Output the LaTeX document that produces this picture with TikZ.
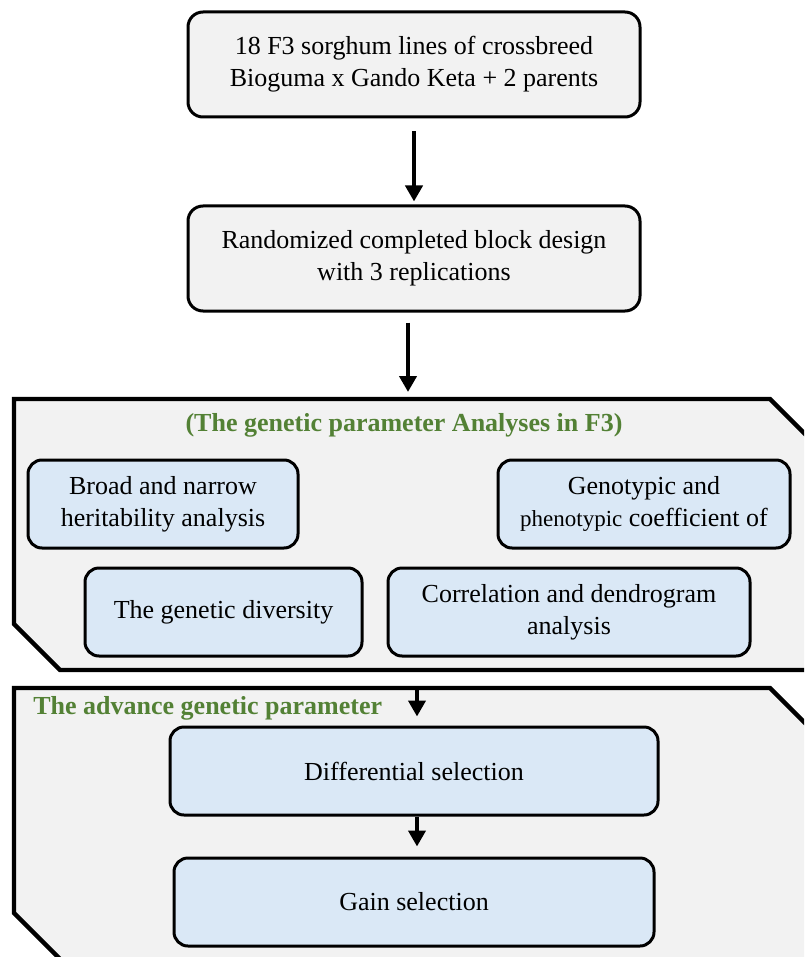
\documentclass[tikz,border=0pt]{standalone}
\usepackage{fontspec}
\setmainfont{Liberation Serif}
\usepackage{tikz}
\usetikzlibrary{positioning, arrows.meta}
\definecolor{panelgray}{HTML}{F2F2F2}
\definecolor{boxblue}{HTML}{DAE8F6}
\definecolor{titlegreen}{HTML}{538135}

\begin{document}
\begin{tikzpicture}[
    x=0.5pt, y=-0.5pt,
    font=\fontsize{13}{16}\selectfont,
    >={Triangle[length=8pt, width=8.5pt]},
    stepbox/.style={rounded corners=7.5pt, draw=black, fill=panelgray,
        text=black, line width=1.5pt, minimum width=226pt, minimum height=52.5pt, align=center},
    analysisbox/.style={rounded corners=7pt, draw=black, fill=boxblue,
        text=black, line width=1.5pt, minimum height=44pt, align=center},
    panel/.style={draw=black, fill=panelgray, line width=2.2pt},
    paneltitle/.style={font=\fontsize{13}{16}\selectfont\bfseries, text=titlegreen, inner sep=0pt},
    flow/.style={->, line width=2pt}
  ]
    \useasboundingbox (0,0) rectangle (804,957);
    % the two snipped panels, cut off by the page edge
    \begin{scope}
      \clip (0,0) rectangle (804,957);
      \draw[panel] (14,399) -- (770,399) -- (850,479) -- (850,670) -- (60,670) -- (14,624) -- cycle;
      \draw[panel] (14,688) -- (770,688) -- (850,768) -- (850,961) -- (62,961) -- (14,913) -- cycle;
    \end{scope}
    \coordinate (p1top) at (408,399);
    \coordinate (p2top) at (417,688);

    \node[stepbox] (lines) at (414,64.5) {18 F3 sorghum lines of crossbreed\\Bioguma x Gando Keta + 2 parents};
    \node[stepbox, below=43pt of lines] (design) {Randomized completed block design\\with 3 replications};
    \draw[flow, shorten <=6.5pt, shorten >=1.5pt] (lines.south) -- (design.north);
    \draw[flow, shorten <=5pt, shorten >=3.5pt] (design.south -| p1top) -- (p1top);

    % genetic parameter analyses in F3
    \node[paneltitle] (ptitle) at (404,425) {(The genetic parameter Analyses in F3)};
    \node[analysisbox, minimum width=135pt] (herit) at (163,504) {Broad and narrow\\heritability analysis};
    \node[analysisbox, minimum width=146pt] (coeff) at (644,504)
        {Genotypic and\\{\fontsize{11.5}{16}\selectfont phenotypic} coefficient of};
    \node[analysisbox, minimum width=138.5pt] (divers) at (223.5,612) {The genetic diversity};
    \node[analysisbox, minimum width=181pt] (corr) at (569,612) {Correlation and dendrogram\\analysis};

    % advance genetic parameter
    \node[paneltitle, anchor=west] (atitle) at (33,708) {The advance genetic parameter};
    \node[analysisbox, minimum width=244pt] (diffsel) at (414,771) {Differential selection};
    \node[analysisbox, minimum width=240pt, below=20pt of diffsel] (gainsel) {Gain selection};
    \draw[flow, shorten >=4.5pt] (p2top) -- (p2top |- diffsel.north);
    \draw[flow, shorten >=5pt] (diffsel.south -| p2top) -- (p2top |- gainsel.north);
  \end{tikzpicture}
\end{document}
